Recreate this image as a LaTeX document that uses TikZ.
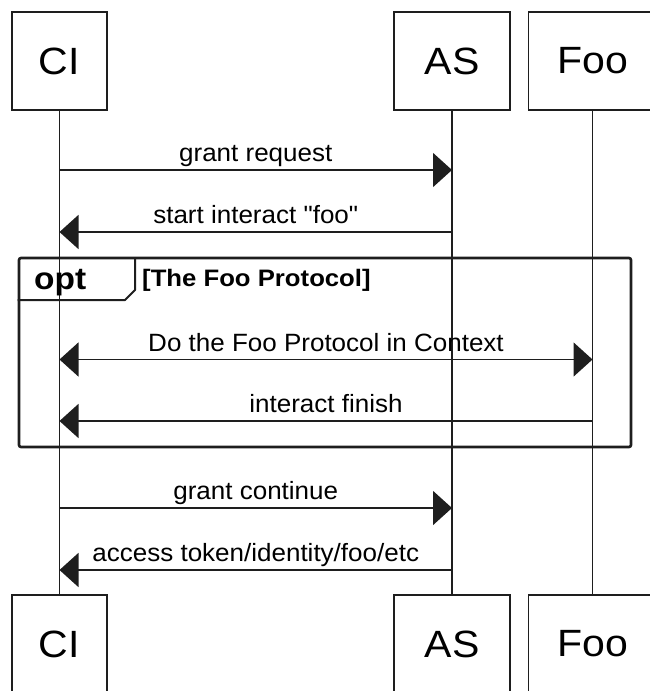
\documentclass[tikz,border=0pt]{standalone}
\usepackage{fontspec}
\newfontfamily\diafont[FakeStretch=1.08]{Liberation Sans}
\newfontfamily\msgfont[FakeStretch=1.04]{Liberation Sans}
\usetikzlibrary{arrows.meta}
\definecolor{ink}{HTML}{1E1E1E}

\begin{document}
\begin{tikzpicture}[x=1pt,y=-1pt,
  actor/.style={draw=ink, line width=1.8pt, minimum width=#1, minimum height=98pt,
    inner sep=0pt, font=\diafont\fontsize{38}{40}\selectfont},
  lifeline/.style={draw=ink, line width=1.5pt},
  msg/.style={draw=ink, line width=1.6pt, -{Triangle[length=19pt,width=34pt]}},
  bimsg/.style={msg, {Triangle[length=19pt,width=34pt]}-{Triangle[length=19pt,width=34pt]}},
  msgtext/.style={anchor=base, inner sep=0pt, yshift=8.5pt, font=\msgfont\fontsize{25}{27}\selectfont},
  frame/.style={draw=ink, line width=2.6pt, rounded corners=2pt},
]
\useasboundingbox (0,0) rectangle (650,691);
\begin{scope}
\clip (0,0) rectangle (650,691);

% participants, top and bottom
\node[actor=95pt]  (ciT)  at (59.5,61)  {CI};
\node[actor=116pt] (asT)  at (452,61)   {AS};
\node[actor=128pt] (fooT) at (592.5,61) {Foo};
\node[actor=95pt]  (ciB)  at (59.5,644) {CI};
\node[actor=116pt] (asB)  at (452,644)  {AS};
\node[actor=128pt] (fooB) at (592.5,644) {Foo};

% lifelines
\draw[lifeline] (ciT.south)  -- (ciB.north);
\draw[lifeline] (asT.south)  -- (asB.north);
\draw[lifeline] (fooT.south) -- (fooB.north);

% message end points on the lifelines
\coordinate (m1a) at (ciT |- 0,170);   \coordinate (m1b) at (asT |- 0,170);
\coordinate (m2a) at (asT |- 0,232);   \coordinate (m2b) at (ciT |- 0,232);
\coordinate (m3a) at (ciT |- 0,359.5); \coordinate (m3b) at (fooT |- 0,359.5);
\coordinate (m4a) at (fooT |- 0,421);  \coordinate (m4b) at (ciT |- 0,421);
\coordinate (m5a) at (ciT |- 0,508);   \coordinate (m5b) at (asT |- 0,508);
\coordinate (m6a) at (asT |- 0,570);   \coordinate (m6b) at (ciT |- 0,570);

% opt fragment
\node[frame, minimum width=612pt, minimum height=189pt, inner sep=0pt] (opt) at (325,352.5) {};
\draw[draw=ink, line width=2pt, line join=round]
  (opt.north west |- 0,300) -- (125,300) -- (135,290) -- (135,258);
\node[anchor=base west, inner sep=0pt, font=\diafont\bfseries\fontsize{31}{33}\selectfont]
  (optlbl) at (34,289) {opt};
\node[anchor=base west, inner sep=0pt, font=\diafont\bfseries\fontsize{23.8}{25}\selectfont]
  (optcond) at (142,286.5) {[The Foo Protocol]};

% messages
\draw[msg] (m1a) -- node[msgtext] (t1) {grant request} (m1b);
\draw[msg] (m2a) -- node[msgtext] (t2) {start interact "foo"} (m2b);
\draw[bimsg] (m3a) -- node[msgtext] (t3) {Do the Foo Protocol in Context} (m3b);
\draw[msg] (m4a) -- node[msgtext] (t4) {interact finish} (m4b);
\draw[msg] (m5a) -- node[msgtext] (t5) {grant continue} (m5b);
\draw[msg] (m6a) -- node[msgtext] (t6) {access token/identity/foo/etc} (m6b);
\end{scope}
\end{tikzpicture}
\end{document}
